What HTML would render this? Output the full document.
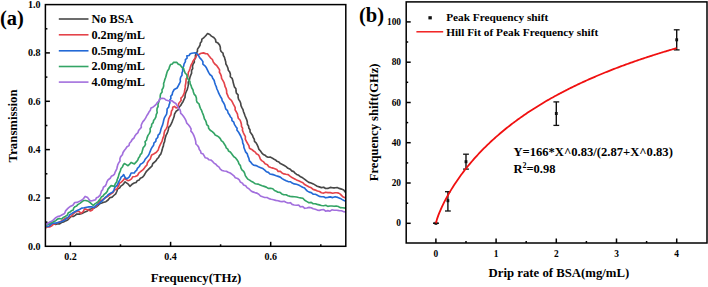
<!DOCTYPE html>
<html><head><meta charset="utf-8"><style>
html,body{margin:0;padding:0;background:#fff;width:708px;height:287px;overflow:hidden}
svg{display:block}
</style></head><body>
<svg width="708" height="287" viewBox="0 0 708 287">
<defs><clipPath id="clipL"><rect x="45.4" y="4.6" width="300.4" height="241.7"/></clipPath></defs>
<text x="0" y="24.9" font-family="'Liberation Serif', serif" font-weight="bold" font-size="20.5">(a)</text>
<g fill="none" stroke-width="1.65" stroke-linejoin="round" stroke-linecap="round" clip-path="url(#clipL)">
<path d="M45.5,224.0 L47.6,224.2 L49.7,224.0 L51.8,223.4 L53.8,223.7 L55.7,224.4 L57.6,223.8 L59.7,223.8 L61.5,222.5 L63.5,222.0 L65.5,220.9 L67.7,220.0 L69.4,218.2 L71.2,216.5 L73.3,216.5 L75.1,215.4 L76.8,214.0 L79.4,214.1 L81.9,213.4 L84.3,212.2 L86.8,211.3 L88.9,209.5 L91.6,208.8 L94.1,208.0 L96.4,206.8 L98.1,205.3 L99.8,203.6 L101.8,203.0 L103.8,202.3 L105.9,201.7 L108.1,200.0 L109.8,197.8 L112.1,197.1 L113.8,195.5 L115.7,193.8 L116.8,191.5 L117.6,189.1 L119.7,187.9 L120.8,186.1 L122.6,184.8 L123.8,183.6 L125.1,181.8 L127.9,183.8 L129.9,186.3 L132.0,184.3 L134.2,183.0 L136.1,182.5 L137.2,180.8 L139.1,180.1 L140.3,178.2 L142.5,177.3 L144.0,175.5 L145.2,173.4 L146.5,171.3 L148.2,169.7 L150.0,167.9 L151.9,166.2 L152.7,163.7 L154.7,162.0 L156.1,160.6 L157.1,158.9 L158.6,157.5 L159.4,155.6 L160.8,154.1 L161.5,152.1 L162.1,150.1 L162.6,147.9 L163.4,145.9 L163.7,143.7 L164.6,141.7 L164.9,139.5 L165.4,137.4 L166.0,135.4 L167.1,133.4 L167.8,131.4 L168.4,129.4 L168.7,127.3 L170.2,125.8 L171.2,123.9 L172.0,122.1 L172.7,120.2 L173.5,118.2 L174.2,116.3 L174.5,114.2 L176.1,111.3 L178.1,109.9 L179.3,106.9 L180.7,105.5 L181.6,103.8 L183.0,101.7 L184.1,99.2 L185.0,97.4 L185.1,95.3 L185.5,93.3 L186.3,91.5 L187.3,89.3 L187.9,86.9 L188.4,84.6 L188.2,82.1 L189.4,79.9 L189.9,77.6 L190.7,75.3 L191.6,73.1 L191.5,70.6 L192.7,68.5 L192.5,66.2 L193.1,64.1 L194.3,62.2 L194.3,59.9 L195.5,58.0 L195.4,55.6 L196.1,53.4 L197.4,51.5 L197.5,49.1 L198.8,47.2 L200.0,45.3 L200.3,43.0 L201.6,41.4 L201.9,39.2 L203.6,37.9 L205.0,36.5 L206.3,35.1 L207.6,33.5 L209.8,34.5 L211.4,36.1 L213.8,37.5 L215.5,39.5 L215.9,42.0 L218.0,43.1 L219.5,44.9 L220.3,47.0 L220.4,49.4 L221.1,51.5 L223.0,53.2 L223.4,55.5 L224.5,57.4 L225.0,59.6 L225.7,61.7 L225.9,64.0 L227.0,65.9 L227.9,68.0 L228.3,70.2 L229.7,72.1 L230.4,74.2 L230.3,76.7 L232.1,78.3 L232.8,80.4 L233.2,82.6 L233.8,84.7 L234.4,86.9 L235.9,88.7 L236.0,91.0 L236.4,93.2 L238.1,94.9 L238.1,97.3 L238.6,99.4 L239.9,101.3 L240.7,103.3 L241.0,105.6 L241.9,107.6 L243.0,109.6 L243.5,111.8 L244.4,113.9 L245.1,116.0 L246.0,118.1 L246.8,120.0 L247.3,122.0 L247.4,124.2 L248.6,125.9 L248.8,128.0 L250.0,129.8 L250.1,132.0 L251.4,133.7 L252.6,135.4 L253.2,137.4 L254.3,139.2 L254.5,141.4 L256.1,142.9 L257.1,144.7 L258.0,146.6 L258.8,149.1 L260.5,151.0 L261.9,153.1 L263.3,154.4 L265.0,155.2 L266.3,156.4 L268.1,157.2 L270.2,157.1 L272.0,157.9 L273.7,159.0 L275.5,159.9 L277.0,161.3 L278.9,162.0 L280.4,163.6 L282.4,164.5 L284.3,165.5 L286.1,166.6 L288.0,168.3 L290.3,169.3 L291.7,170.9 L293.7,171.6 L295.0,173.2 L296.7,174.4 L298.8,175.3 L300.6,176.8 L302.7,177.8 L304.8,179.3 L306.7,180.9 L308.8,182.4 L311.1,183.0 L313.3,183.9 L315.3,185.1 L317.2,186.2 L319.3,186.9 L321.4,187.6 L323.7,187.2 L325.6,188.5 L327.8,188.4 L330.2,187.4 L332.7,187.8 L335.1,187.8 L337.2,187.6 L339.2,188.4 L341.5,189.1 L343.7,190.0 L345.6,192.4" stroke="#474747"/>
<path d="M45.5,228.0 L47.5,226.8 L50.0,226.8 L51.9,225.7 L53.6,224.1 L55.6,223.7 L57.6,222.9 L59.6,222.0 L61.6,220.9 L64.2,219.1 L66.1,218.1 L68.5,218.0 L69.9,216.6 L71.7,215.9 L72.8,214.3 L74.9,212.3 L77.8,211.2 L79.5,211.7 L80.9,213.5 L83.1,211.6 L84.6,208.9 L87.7,209.8 L90.5,210.9 L92.3,210.1 L93.3,208.4 L95.1,206.8 L97.2,205.5 L98.2,203.2 L99.8,201.3 L102.1,199.9 L104.2,198.5 L106.2,197.2 L108.2,196.1 L110.3,194.4 L112.6,192.9 L113.8,191.3 L114.9,189.7 L117.0,188.9 L117.8,187.0 L118.9,185.3 L119.5,183.3 L121.3,182.1 L122.9,180.7 L124.3,178.6 L126.2,179.5 L127.9,180.6 L129.7,180.2 L131.5,178.8 L132.7,176.8 L135.2,176.5 L137.5,175.5 L138.8,173.2 L140.7,171.5 L142.5,170.2 L144.0,168.6 L145.3,166.7 L146.9,165.2 L147.4,162.7 L148.7,160.8 L150.3,159.0 L150.9,157.0 L151.7,154.9 L154.1,153.7 L156.4,152.3 L158.2,150.1 L158.9,147.6 L159.9,145.4 L161.0,143.1 L162.0,141.4 L162.5,139.5 L163.1,137.6 L163.9,135.8 L164.1,133.2 L164.8,130.8 L166.3,128.6 L167.4,126.3 L167.7,123.9 L168.2,121.5 L168.7,118.9 L169.8,116.5 L170.9,114.8 L171.2,112.9 L171.5,111.0 L172.6,109.4 L172.7,107.3 L174.5,106.4 L176.1,108.0 L178.0,107.1 L178.4,105.3 L178.7,103.5 L179.9,102.0 L181.1,100.5 L180.9,98.1 L182.6,96.5 L183.5,94.6 L184.4,92.6 L184.7,90.2 L185.2,87.9 L185.3,85.5 L185.8,83.2 L186.0,80.9 L186.2,78.7 L187.8,76.9 L188.1,74.7 L188.3,72.5 L189.3,70.5 L190.0,68.6 L190.6,66.6 L191.3,64.6 L192.3,62.8 L193.1,60.9 L194.5,59.1 L195.8,57.2 L196.9,55.0 L199.2,54.3 L201.2,53.3 L203.5,52.9 L205.5,53.6 L207.4,53.8 L208.9,55.8 L210.5,57.8 L212.4,59.5 L213.3,62.0 L214.8,64.0 L216.8,65.7 L218.2,67.8 L219.6,69.9 L219.4,72.3 L220.6,74.2 L221.3,76.1 L221.6,78.4 L222.8,80.4 L223.9,82.3 L224.6,84.5 L225.1,86.7 L226.1,88.7 L226.6,90.8 L226.7,93.1 L227.6,95.1 L228.4,97.1 L229.6,98.9 L231.4,100.3 L232.5,102.3 L233.3,104.2 L234.3,105.9 L235.2,107.7 L235.1,109.9 L236.3,111.8 L237.4,113.8 L237.8,116.0 L238.3,118.2 L240.0,120.0 L240.8,122.0 L241.4,124.2 L241.5,126.5 L242.6,128.1 L242.4,130.1 L243.2,132.3 L244.2,134.5 L245.4,136.6 L245.3,139.2 L246.4,141.3 L247.6,143.5 L248.9,145.7 L249.4,148.2 L251.7,149.4 L253.6,151.0 L255.3,152.1 L256.4,153.8 L258.3,154.7 L259.5,156.7 L260.3,159.0 L261.7,160.6 L263.7,161.9 L265.1,163.8 L267.4,164.7 L268.8,166.7 L270.8,167.5 L272.9,168.1 L274.8,168.8 L276.8,169.5 L278.2,171.4 L280.4,171.4 L282.0,173.0 L283.9,173.9 L286.0,174.3 L288.2,174.6 L290.0,176.1 L292.0,177.6 L294.3,178.7 L296.5,179.9 L298.6,180.8 L300.7,181.8 L302.9,182.7 L304.7,184.6 L306.9,185.7 L309.2,186.9 L311.3,187.8 L313.1,189.4 L315.4,190.1 L317.4,191.0 L319.5,191.5 L321.4,192.8 L323.6,193.1 L325.8,192.2 L327.8,192.6 L330.2,192.6 L332.7,193.2 L335.1,192.7 L336.9,192.7 L338.7,193.1 L340.3,194.1 L341.5,195.4 L342.8,196.8 L344.5,197.6" stroke="#e4434a"/>
<path d="M45.5,226.5 L48.1,226.4 L50.0,225.6 L51.6,223.8 L53.5,223.0 L56.3,223.1 L58.7,222.3 L61.1,221.7 L63.4,220.8 L65.5,219.4 L67.5,217.7 L68.9,216.2 L70.0,214.4 L71.7,213.7 L73.1,212.7 L75.2,211.6 L77.2,210.5 L79.5,209.5 L81.7,208.1 L84.1,207.7 L86.6,207.2 L89.0,206.9 L91.5,206.9 L94.4,207.5 L95.7,205.9 L97.2,204.5 L98.9,204.0 L100.0,202.7 L102.1,201.0 L104.0,199.0 L105.2,197.4 L106.9,196.3 L108.1,194.7 L110.5,193.3 L113.0,191.9 L114.1,189.5 L115.0,187.1 L117.1,185.4 L118.1,183.3 L119.1,181.2 L120.3,179.2 L121.1,177.1 L122.5,176.1 L123.7,174.6 L124.7,176.9 L126.2,178.7 L127.8,178.2 L129.3,176.8 L130.3,175.0 L131.1,173.0 L134.3,173.0 L135.3,171.4 L136.8,170.1 L137.4,168.3 L139.3,166.5 L140.5,164.2 L142.5,163.1 L144.1,161.5 L145.2,159.2 L146.9,157.3 L148.4,155.5 L149.4,153.3 L150.3,151.1 L151.2,148.8 L152.3,146.9 L153.6,145.2 L154.0,142.9 L155.8,141.4 L156.1,139.1 L157.7,137.5 L158.1,135.2 L159.7,133.6 L160.4,131.5 L160.9,129.2 L161.7,127.0 L162.6,124.9 L163.2,122.6 L163.7,120.3 L164.3,118.1 L165.4,116.1 L166.6,114.1 L167.0,111.6 L167.1,109.1 L168.7,107.1 L169.1,104.9 L169.9,102.8 L169.6,100.4 L170.9,98.6 L170.7,96.3 L172.2,94.6 L172.6,92.4 L174.2,89.5 L177.1,88.0 L178.5,85.3 L179.5,83.5 L180.4,81.5 L180.2,79.2 L180.7,77.1 L182.0,75.2 L182.0,73.0 L182.8,71.0 L182.6,68.7 L183.6,66.3 L184.1,63.8 L185.4,61.6 L185.4,59.6 L187.1,58.2 L186.9,55.9 L189.1,55.5 L190.2,53.7 L191.9,53.2 L195.1,52.8 L196.9,53.7 L198.5,55.3 L199.6,57.7 L201.5,59.6 L202.9,61.6 L202.9,64.2 L204.9,65.8 L206.4,67.8 L207.5,70.1 L208.6,72.4 L209.9,74.5 L211.9,76.1 L212.7,78.3 L214.1,80.2 L214.7,82.5 L215.4,84.7 L216.3,86.8 L216.9,89.0 L217.9,91.0 L218.7,93.2 L219.7,95.2 L220.7,97.0 L221.8,98.7 L222.2,100.8 L223.4,102.5 L224.4,104.3 L225.1,106.6 L225.7,108.9 L227.5,110.6 L228.1,112.9 L229.4,114.7 L230.3,116.7 L231.8,118.3 L232.0,120.7 L233.8,122.2 L234.4,124.4 L235.7,126.4 L237.1,128.3 L236.9,130.0 L238.4,131.9 L239.6,134.0 L240.7,136.0 L241.6,138.2 L242.5,140.5 L242.7,142.9 L243.7,145.1 L243.9,147.5 L244.8,149.7 L245.6,151.9 L247.3,153.9 L247.9,156.2 L248.9,158.4 L249.4,160.8 L250.8,162.2 L252.0,163.8 L253.6,165.1 L256.1,165.6 L258.4,166.7 L260.7,167.7 L262.9,168.6 L264.8,170.1 L266.4,171.8 L268.4,172.4 L269.9,174.0 L272.0,174.4 L274.1,174.9 L276.2,175.7 L278.2,176.4 L280.3,177.1 L282.1,178.6 L284.1,179.7 L286.1,180.7 L288.1,181.6 L290.3,181.7 L292.2,183.1 L294.2,183.9 L296.4,184.3 L298.6,185.0 L300.6,186.1 L302.6,187.3 L304.6,188.1 L305.9,189.7 L307.4,191.1 L309.2,192.1 L311.3,192.6 L313.1,194.1 L315.4,194.3 L317.4,195.2 L319.3,196.4 L321.5,196.7 L323.6,196.7 L325.6,197.8 L327.8,197.4 L330.2,196.9 L332.7,197.6 L335.1,196.7 L337.8,197.4 L340.3,198.4 L342.3,199.6 L344.5,200.8" stroke="#2369d6"/>
<path d="M45.5,226.0 L47.5,224.5 L49.8,223.5 L51.7,222.4 L53.8,221.6 L55.7,220.7 L57.4,219.1 L59.4,218.5 L61.6,219.0 L63.3,217.4 L65.2,216.5 L67.3,215.1 L68.3,212.8 L70.0,212.1 L71.3,210.8 L73.3,209.9 L73.7,208.0 L75.0,206.7 L76.6,206.0 L77.8,204.6 L79.9,203.4 L81.8,201.9 L83.5,200.5 L85.6,200.5 L88.5,201.3 L90.2,202.7 L91.8,204.1 L93.5,205.5 L94.8,203.9 L96.5,202.9 L98.1,201.5 L99.5,199.9 L100.4,198.8 L101.3,197.0 L103.1,196.0 L104.2,194.3 L106.0,193.0 L107.3,191.3 L108.0,189.1 L109.5,187.4 L111.1,185.6 L114.3,186.4 L115.3,183.8 L116.8,181.8 L117.2,179.5 L118.1,177.6 L118.7,175.4 L119.3,173.3 L120.3,171.0 L121.0,168.5 L122.4,167.0 L123.2,165.1 L124.4,163.5 L125.9,164.4 L128.0,165.7 L129.7,164.1 L131.1,162.4 L134.4,163.9 L136.3,161.9 L137.8,159.9 L138.5,158.1 L139.7,156.6 L140.3,154.7 L141.7,153.3 L142.2,151.4 L142.7,149.5 L143.2,147.6 L144.7,146.0 L145.5,144.1 L145.0,141.8 L146.4,140.2 L146.6,139.9 L147.1,137.6 L148.0,135.4 L149.4,133.4 L150.3,131.1 L150.1,128.6 L151.5,126.5 L151.7,124.3 L153.2,122.6 L153.6,120.5 L155.0,118.7 L155.9,116.8 L156.2,114.6 L157.2,112.7 L156.9,110.5 L157.1,108.4 L158.1,106.5 L158.0,104.3 L158.7,102.2 L159.4,100.2 L160.2,98.2 L160.2,96.0 L160.6,93.9 L162.1,92.0 L162.0,89.7 L163.2,87.8 L163.7,85.7 L163.6,83.5 L164.3,81.4 L164.9,79.3 L165.7,77.2 L166.3,75.1 L166.8,73.0 L167.5,71.0 L168.9,69.1 L169.5,66.8 L170.5,64.6 L172.3,63.9 L173.6,62.3 L176.9,62.4 L178.1,64.1 L180.0,64.7 L181.5,66.8 L183.6,68.5 L184.3,70.9 L185.1,73.0 L186.8,74.8 L187.2,77.3 L188.2,79.4 L189.9,81.2 L190.1,83.6 L191.1,85.6 L191.7,87.8 L192.9,89.7 L193.4,92.0 L194.1,94.1 L195.7,95.9 L196.4,98.0 L196.5,100.4 L197.2,102.4 L199.0,103.8 L199.6,106.1 L200.4,108.3 L201.6,110.4 L202.3,112.5 L203.2,114.6 L203.9,116.7 L204.4,118.8 L205.6,120.6 L206.3,122.5 L206.7,124.6 L208.4,126.1 L208.6,128.2 L210.2,130.2 L212.3,131.6 L214.1,133.3 L215.2,135.1 L217.2,135.9 L218.9,137.1 L220.3,138.6 L221.3,140.7 L223.2,142.1 L224.3,144.1 L225.6,145.9 L226.2,147.8 L227.8,149.1 L228.5,151.0 L230.3,152.0 L231.5,153.6 L232.7,155.2 L233.9,156.8 L235.6,157.9 L237.0,159.7 L238.2,161.6 L238.9,163.8 L240.4,165.6 L240.9,167.9 L241.9,169.8 L243.7,171.4 L244.7,173.4 L245.3,175.6 L246.6,177.5 L247.8,179.1 L249.6,180.1 L251.1,181.2 L253.3,182.3 L255.4,183.8 L258.0,184.1 L260.1,184.9 L262.1,185.7 L264.2,186.4 L266.3,187.1 L268.2,188.4 L270.6,188.2 L272.8,188.7 L274.5,190.5 L276.3,191.2 L278.0,192.2 L280.0,192.4 L281.8,193.9 L283.8,194.7 L286.1,194.8 L288.0,195.8 L290.1,196.4 L292.3,196.6 L294.4,196.8 L296.6,197.0 L298.6,197.5 L300.7,197.9 L302.9,198.2 L304.7,200.3 L307.0,201.6 L308.9,202.7 L311.2,202.4 L313.1,203.7 L315.3,203.8 L317.3,204.4 L319.3,204.9 L321.4,205.5 L323.6,205.7 L325.8,205.3 L327.8,206.4 L329.9,206.0 L332.0,206.0 L334.1,206.3 L336.2,206.0 L338.3,206.5 L340.2,207.6 L342.4,207.8 L345.6,208.1" stroke="#33a465"/>
<path d="M45.5,225.0 L47.5,223.5 L49.6,222.1 L51.7,221.2 L53.5,219.8 L55.3,218.0 L57.5,216.6 L59.8,216.1 L61.7,215.0 L64.6,213.5 L65.6,210.9 L67.4,208.9 L68.7,207.7 L70.1,206.6 L72.9,205.2 L74.7,202.5 L77.0,202.4 L79.0,201.6 L81.9,200.0 L83.6,198.5 L85.1,196.4 L87.7,197.6 L88.9,199.4 L90.4,201.0 L92.5,200.6 L95.6,199.7 L96.5,197.7 L98.4,196.9 L100.2,195.1 L100.9,193.1 L101.5,191.1 L102.8,189.4 L103.4,187.2 L105.4,185.8 L106.3,183.8 L107.0,181.7 L108.2,179.7 L110.2,178.3 L111.3,176.3 L112.9,175.5 L114.3,174.4 L115.0,172.4 L115.9,170.6 L116.8,168.8 L117.3,166.8 L117.7,164.9 L118.7,162.9 L120.0,161.0 L119.9,158.7 L120.7,156.6 L122.4,154.8 L123.0,152.5 L124.3,150.5 L125.7,148.7 L127.0,146.8 L129.0,145.6 L129.5,143.2 L131.1,141.5 L132.2,139.5 L134.0,138.0 L134.9,135.9 L136.3,134.1 L138.0,132.6 L138.6,130.6 L139.9,129.0 L141.3,127.4 L141.2,125.2 L142.0,123.3 L142.9,121.6 L144.3,120.1 L145.7,117.9 L146.9,115.5 L148.1,113.8 L149.0,111.9 L150.3,110.2 L151.0,108.1 L152.9,107.2 L154.5,105.9 L155.9,104.6 L157.2,102.7 L158.9,101.2 L159.7,98.7 L162.1,98.4 L164.3,98.5 L165.9,100.0 L168.4,100.7 L170.6,100.8 L172.2,100.9 L173.8,102.3 L175.8,103.5 L177.6,106.2 L178.5,108.1 L179.9,109.6 L180.5,111.4 L180.7,113.4 L182.2,114.7 L183.4,116.2 L184.8,118.4 L186.0,120.7 L186.8,123.2 L188.6,125.0 L190.1,127.1 L191.1,128.8 L190.9,131.1 L192.3,132.6 L193.3,134.4 L194.3,136.7 L195.1,139.0 L195.7,141.4 L195.9,144.0 L197.5,145.5 L198.7,147.3 L199.3,149.4 L200.5,151.0 L201.1,153.2 L203.2,154.1 L204.2,155.9 L205.3,157.8 L207.3,158.2 L208.8,159.7 L210.8,160.0 L212.6,161.4 L214.0,163.1 L215.9,164.2 L217.3,165.9 L219.1,167.2 L220.3,169.2 L222.1,170.5 L224.2,171.0 L226.4,171.2 L228.2,172.3 L230.2,173.0 L232.1,174.4 L233.9,175.8 L235.3,177.7 L237.6,178.5 L239.3,179.8 L240.3,182.0 L242.3,183.1 L243.6,184.9 L245.7,185.7 L247.0,187.6 L248.9,188.7 L250.4,190.3 L252.1,191.6 L254.4,192.4 L256.7,193.1 L258.8,194.2 L260.5,196.0 L262.6,196.8 L264.7,197.5 L267.1,197.5 L269.0,198.6 L271.2,199.3 L273.5,199.7 L275.7,200.4 L278.0,200.7 L280.2,201.4 L282.1,201.6 L284.1,201.3 L285.9,202.3 L287.9,203.0 L290.4,202.7 L292.1,204.4 L294.2,205.0 L296.4,205.2 L298.7,205.1 L300.4,206.8 L302.8,206.6 L304.7,208.3 L306.9,208.0 L309.0,207.4 L311.2,207.7 L313.2,208.8 L315.3,209.3 L317.4,210.1 L319.4,210.4 L321.6,209.7 L323.7,209.6 L325.6,211.2 L327.8,210.6 L330.0,211.2 L331.9,209.8 L334.1,210.2 L336.7,210.3 L339.2,210.6 L341.4,210.8 L343.4,211.6 L345.6,211.9" stroke="#a26fdd"/>
</g>
<rect x="45.4" y="4.6" width="300.4" height="241.7" fill="none" stroke="#000" stroke-width="1.5"/>
<text x="40.6" y="249.7" font-family="'Liberation Serif', serif" font-weight="bold" font-size="10" text-anchor="end">0.0</text>
<line x1="45.4" y1="222.1" x2="47.4" y2="222.1" stroke="#000" stroke-width="1.5"/>
<line x1="45.4" y1="198.0" x2="49.9" y2="198.0" stroke="#000" stroke-width="1.5"/>
<text x="40.6" y="201.4" font-family="'Liberation Serif', serif" font-weight="bold" font-size="10" text-anchor="end">0.2</text>
<line x1="45.4" y1="173.8" x2="47.4" y2="173.8" stroke="#000" stroke-width="1.5"/>
<line x1="45.4" y1="149.6" x2="49.9" y2="149.6" stroke="#000" stroke-width="1.5"/>
<text x="40.6" y="153.0" font-family="'Liberation Serif', serif" font-weight="bold" font-size="10" text-anchor="end">0.4</text>
<line x1="45.4" y1="125.5" x2="47.4" y2="125.5" stroke="#000" stroke-width="1.5"/>
<line x1="45.4" y1="101.3" x2="49.9" y2="101.3" stroke="#000" stroke-width="1.5"/>
<text x="40.6" y="104.7" font-family="'Liberation Serif', serif" font-weight="bold" font-size="10" text-anchor="end">0.6</text>
<line x1="45.4" y1="77.1" x2="47.4" y2="77.1" stroke="#000" stroke-width="1.5"/>
<line x1="45.4" y1="52.9" x2="49.9" y2="52.9" stroke="#000" stroke-width="1.5"/>
<text x="40.6" y="56.3" font-family="'Liberation Serif', serif" font-weight="bold" font-size="10" text-anchor="end">0.8</text>
<line x1="45.4" y1="28.8" x2="47.4" y2="28.8" stroke="#000" stroke-width="1.5"/>
<text x="40.6" y="8.0" font-family="'Liberation Serif', serif" font-weight="bold" font-size="10" text-anchor="end">1.0</text>
<line x1="70.4" y1="246.3" x2="70.4" y2="241.8" stroke="#000" stroke-width="1.5"/>
<text x="70.4" y="259.5" font-family="'Liberation Serif', serif" font-weight="bold" font-size="10" text-anchor="middle">0.2</text>
<line x1="120.5" y1="246.3" x2="120.5" y2="244.3" stroke="#000" stroke-width="1.5"/>
<line x1="170.6" y1="246.3" x2="170.6" y2="241.8" stroke="#000" stroke-width="1.5"/>
<text x="170.6" y="259.5" font-family="'Liberation Serif', serif" font-weight="bold" font-size="10" text-anchor="middle">0.4</text>
<line x1="220.6" y1="246.3" x2="220.6" y2="244.3" stroke="#000" stroke-width="1.5"/>
<line x1="270.7" y1="246.3" x2="270.7" y2="241.8" stroke="#000" stroke-width="1.5"/>
<text x="270.7" y="259.5" font-family="'Liberation Serif', serif" font-weight="bold" font-size="10" text-anchor="middle">0.6</text>
<line x1="320.8" y1="246.3" x2="320.8" y2="244.3" stroke="#000" stroke-width="1.5"/>
<text x="196" y="281.6" font-family="'Liberation Serif', serif" font-weight="bold" font-size="12.8" text-anchor="middle">Frequency(THz)</text>
<text transform="translate(17.2,125.9) rotate(-90)" font-family="'Liberation Serif', serif" font-weight="bold" font-size="12.8" text-anchor="middle">Transmission</text>
<line x1="58.8" y1="19.0" x2="88.5" y2="19.0" stroke="#474747" stroke-width="1.6"/>
<text x="91.4" y="22.8" font-family="'Liberation Serif', serif" font-weight="bold" font-size="12.3">No BSA</text>
<line x1="58.8" y1="34.8" x2="88.5" y2="34.8" stroke="#e4434a" stroke-width="1.6"/>
<text x="91.4" y="38.6" font-family="'Liberation Serif', serif" font-weight="bold" font-size="12.3">0.2mg/mL</text>
<line x1="58.8" y1="50.8" x2="88.5" y2="50.8" stroke="#2369d6" stroke-width="1.6"/>
<text x="91.4" y="54.6" font-family="'Liberation Serif', serif" font-weight="bold" font-size="12.3">0.5mg/mL</text>
<line x1="58.8" y1="66.5" x2="88.5" y2="66.5" stroke="#33a465" stroke-width="1.6"/>
<text x="91.4" y="70.3" font-family="'Liberation Serif', serif" font-weight="bold" font-size="12.3">2.0mg/mL</text>
<line x1="58.8" y1="82.1" x2="88.5" y2="82.1" stroke="#a26fdd" stroke-width="1.6"/>
<text x="91.4" y="85.9" font-family="'Liberation Serif', serif" font-weight="bold" font-size="12.3">4.0mg/mL</text>
<text x="359" y="22.2" font-family="'Liberation Serif', serif" font-weight="bold" font-size="20.5">(b)</text>
<rect x="406.2" y="1.9" width="300.8" height="241.1" fill="none" stroke="#000" stroke-width="1.5"/>
<line x1="406.2" y1="223.3" x2="410.7" y2="223.3" stroke="#000" stroke-width="1.5"/>
<text x="401" y="226.3" font-family="'Liberation Serif', serif" font-weight="bold" font-size="9.4" text-anchor="end">0</text>
<line x1="406.2" y1="203.2" x2="408.2" y2="203.2" stroke="#000" stroke-width="1.5"/>
<line x1="406.2" y1="183.0" x2="410.7" y2="183.0" stroke="#000" stroke-width="1.5"/>
<text x="401" y="186.0" font-family="'Liberation Serif', serif" font-weight="bold" font-size="9.4" text-anchor="end">20</text>
<line x1="406.2" y1="162.9" x2="408.2" y2="162.9" stroke="#000" stroke-width="1.5"/>
<line x1="406.2" y1="142.7" x2="410.7" y2="142.7" stroke="#000" stroke-width="1.5"/>
<text x="401" y="145.7" font-family="'Liberation Serif', serif" font-weight="bold" font-size="9.4" text-anchor="end">40</text>
<line x1="406.2" y1="122.6" x2="408.2" y2="122.6" stroke="#000" stroke-width="1.5"/>
<line x1="406.2" y1="102.5" x2="410.7" y2="102.5" stroke="#000" stroke-width="1.5"/>
<text x="401" y="105.5" font-family="'Liberation Serif', serif" font-weight="bold" font-size="9.4" text-anchor="end">60</text>
<line x1="406.2" y1="82.3" x2="408.2" y2="82.3" stroke="#000" stroke-width="1.5"/>
<line x1="406.2" y1="62.2" x2="410.7" y2="62.2" stroke="#000" stroke-width="1.5"/>
<text x="401" y="65.2" font-family="'Liberation Serif', serif" font-weight="bold" font-size="9.4" text-anchor="end">80</text>
<line x1="406.2" y1="42.0" x2="408.2" y2="42.0" stroke="#000" stroke-width="1.5"/>
<line x1="406.2" y1="21.9" x2="410.7" y2="21.9" stroke="#000" stroke-width="1.5"/>
<text x="401" y="24.9" font-family="'Liberation Serif', serif" font-weight="bold" font-size="9.4" text-anchor="end">100</text>
<line x1="435.9" y1="243.0" x2="435.9" y2="238.5" stroke="#000" stroke-width="1.5"/>
<text x="435.9" y="256.6" font-family="'Liberation Serif', serif" font-weight="bold" font-size="9.4" text-anchor="middle">0</text>
<line x1="466.0" y1="243.0" x2="466.0" y2="241.0" stroke="#000" stroke-width="1.5"/>
<line x1="496.1" y1="243.0" x2="496.1" y2="238.5" stroke="#000" stroke-width="1.5"/>
<text x="496.1" y="256.6" font-family="'Liberation Serif', serif" font-weight="bold" font-size="9.4" text-anchor="middle">1</text>
<line x1="526.2" y1="243.0" x2="526.2" y2="241.0" stroke="#000" stroke-width="1.5"/>
<line x1="556.3" y1="243.0" x2="556.3" y2="238.5" stroke="#000" stroke-width="1.5"/>
<text x="556.3" y="256.6" font-family="'Liberation Serif', serif" font-weight="bold" font-size="9.4" text-anchor="middle">2</text>
<line x1="586.4" y1="243.0" x2="586.4" y2="241.0" stroke="#000" stroke-width="1.5"/>
<line x1="616.5" y1="243.0" x2="616.5" y2="238.5" stroke="#000" stroke-width="1.5"/>
<text x="616.5" y="256.6" font-family="'Liberation Serif', serif" font-weight="bold" font-size="9.4" text-anchor="middle">3</text>
<line x1="646.6" y1="243.0" x2="646.6" y2="241.0" stroke="#000" stroke-width="1.5"/>
<line x1="676.7" y1="243.0" x2="676.7" y2="238.5" stroke="#000" stroke-width="1.5"/>
<text x="676.7" y="256.6" font-family="'Liberation Serif', serif" font-weight="bold" font-size="9.4" text-anchor="middle">4</text>
<text x="558.9" y="277" font-family="'Liberation Serif', serif" font-weight="bold" font-size="12.75" text-anchor="middle">Drip rate of BSA(mg/mL)</text>
<text transform="translate(378.2,122.35) rotate(-90)" font-family="'Liberation Serif', serif" font-weight="bold" font-size="12.62" text-anchor="middle">Frequency shift(GHz)</text>
<line x1="433.0" y1="223.3" x2="438.8" y2="223.3" stroke="#111" stroke-width="1.3"/>
<line x1="433.0" y1="223.3" x2="438.8" y2="223.3" stroke="#111" stroke-width="1.3"/>
<rect x="434.5" y="221.8" width="2.8" height="3" fill="#111"/>
<line x1="447.9" y1="191.7" x2="447.9" y2="211.0" stroke="#111" stroke-width="1.4"/>
<line x1="445.0" y1="191.7" x2="450.8" y2="191.7" stroke="#111" stroke-width="1.3"/>
<line x1="445.0" y1="211.0" x2="450.8" y2="211.0" stroke="#111" stroke-width="1.3"/>
<rect x="446.5" y="199.2" width="2.8" height="3" fill="#111"/>
<line x1="466.0" y1="154.2" x2="466.0" y2="169.1" stroke="#111" stroke-width="1.4"/>
<line x1="463.1" y1="154.2" x2="468.9" y2="154.2" stroke="#111" stroke-width="1.3"/>
<line x1="463.1" y1="169.1" x2="468.9" y2="169.1" stroke="#111" stroke-width="1.3"/>
<rect x="464.6" y="160.2" width="2.8" height="3" fill="#111"/>
<line x1="556.3" y1="101.9" x2="556.3" y2="125.4" stroke="#111" stroke-width="1.4"/>
<line x1="553.4" y1="101.9" x2="559.2" y2="101.9" stroke="#111" stroke-width="1.3"/>
<line x1="553.4" y1="125.4" x2="559.2" y2="125.4" stroke="#111" stroke-width="1.3"/>
<rect x="554.9" y="112.0" width="2.8" height="3" fill="#111"/>
<line x1="676.7" y1="29.8" x2="676.7" y2="49.9" stroke="#111" stroke-width="1.4"/>
<line x1="673.8" y1="29.8" x2="679.6" y2="29.8" stroke="#111" stroke-width="1.3"/>
<line x1="673.8" y1="49.9" x2="679.6" y2="49.9" stroke="#111" stroke-width="1.3"/>
<rect x="675.3" y="38.3" width="2.8" height="3" fill="#111"/>
<path d="M435.90,223.30 L437.10,218.83 L438.31,215.44 L439.51,212.39 L440.72,209.57 L441.92,206.91 L443.12,204.39 L444.33,201.97 L445.53,199.65 L446.74,197.41 L447.94,195.24 L449.14,193.14 L450.35,191.10 L451.55,189.11 L452.76,187.18 L453.96,185.29 L455.16,183.45 L456.37,181.65 L457.57,179.89 L458.78,178.16 L459.98,176.48 L461.18,174.82 L462.39,173.20 L463.59,171.61 L464.80,170.04 L466.00,168.51 L467.20,167.00 L468.41,165.52 L469.61,164.06 L470.82,162.63 L472.02,161.22 L473.22,159.83 L474.43,158.47 L475.63,157.12 L476.84,155.80 L478.04,154.49 L479.24,153.21 L480.45,151.94 L481.65,150.69 L482.86,149.45 L484.06,148.24 L485.26,147.04 L486.47,145.85 L487.67,144.69 L488.88,143.53 L490.08,142.39 L491.28,141.27 L492.49,140.16 L493.69,139.06 L494.90,137.98 L496.10,136.91 L497.30,135.85 L498.51,134.81 L499.71,133.78 L500.92,132.76 L502.12,131.75 L503.32,130.75 L504.53,129.76 L505.73,128.79 L506.94,127.82 L508.14,126.87 L509.34,125.92 L510.55,124.99 L511.75,124.07 L512.96,123.15 L514.16,122.25 L515.36,121.35 L516.57,120.46 L517.77,119.59 L518.98,118.72 L520.18,117.86 L521.38,117.01 L522.59,116.16 L523.79,115.33 L525.00,114.50 L526.20,113.68 L527.40,112.87 L528.61,112.07 L529.81,111.27 L531.02,110.48 L532.22,109.70 L533.42,108.92 L534.63,108.16 L535.83,107.40 L537.04,106.64 L538.24,105.89 L539.44,105.15 L540.65,104.42 L541.85,103.69 L543.06,102.97 L544.26,102.26 L545.46,101.55 L546.67,100.84 L547.87,100.15 L549.08,99.46 L550.28,98.77 L551.48,98.09 L552.69,97.42 L553.89,96.75 L555.10,96.08 L556.30,95.42 L557.50,94.77 L558.71,94.12 L559.91,93.48 L561.12,92.84 L562.32,92.21 L563.52,91.58 L564.73,90.96 L565.93,90.34 L567.14,89.73 L568.34,89.12 L569.54,88.52 L570.75,87.92 L571.95,87.33 L573.16,86.73 L574.36,86.15 L575.56,85.57 L576.77,84.99 L577.97,84.42 L579.18,83.85 L580.38,83.28 L581.58,82.72 L582.79,82.17 L583.99,81.61 L585.20,81.06 L586.40,80.52 L587.60,79.98 L588.81,79.44 L590.01,78.91 L591.22,78.38 L592.42,77.85 L593.62,77.33 L594.83,76.81 L596.03,76.29 L597.24,75.78 L598.44,75.27 L599.64,74.76 L600.85,74.26 L602.05,73.76 L603.26,73.27 L604.46,72.78 L605.66,72.29 L606.87,71.80 L608.07,71.32 L609.28,70.84 L610.48,70.36 L611.68,69.89 L612.89,69.42 L614.09,68.95 L615.30,68.49 L616.50,68.03 L617.70,67.57 L618.91,67.11 L620.11,66.66 L621.32,66.21 L622.52,65.76 L623.72,65.32 L624.93,64.87 L626.13,64.43 L627.34,64.00 L628.54,63.56 L629.74,63.13 L630.95,62.70 L632.15,62.28 L633.36,61.85 L634.56,61.43 L635.76,61.01 L636.97,60.60 L638.17,60.18 L639.38,59.77 L640.58,59.36 L641.78,58.96 L642.99,58.55 L644.19,58.15 L645.40,57.75 L646.60,57.35 L647.80,56.96 L649.01,56.56 L650.21,56.17 L651.42,55.78 L652.62,55.40 L653.82,55.01 L655.03,54.63 L656.23,54.25 L657.44,53.87 L658.64,53.50 L659.84,53.12 L661.05,52.75 L662.25,52.38 L663.46,52.01 L664.66,51.65 L665.86,51.28 L667.07,50.92 L668.27,50.56 L669.48,50.20 L670.68,49.85 L671.88,49.49 L673.09,49.14 L674.29,48.79 L675.50,48.44 L676.70,48.09" fill="none" stroke="#f01010" stroke-width="1.8"/>
<rect x="428.4" y="16.2" width="3.4" height="3.2" fill="#111"/>
<text x="446.2" y="21.4" font-family="'Liberation Serif', serif" font-weight="bold" font-size="11.3">Peak Frequency shift</text>
<line x1="416.4" y1="31.8" x2="443.2" y2="31.8" stroke="#f01010" stroke-width="1.4"/>
<text x="446.2" y="35.6" font-family="'Liberation Serif', serif" font-weight="bold" font-size="11.3">Hill Fit of Peak Frequency shift</text>
<text x="513.4" y="155.6" font-family="'Liberation Serif', serif" font-weight="bold" font-size="12.6">Y=166*X^0.83/(2.87+X^0.83)</text>
<text x="513.4" y="172.9" font-family="'Liberation Serif', serif" font-weight="bold" font-size="12.5">R<tspan font-size="8" dy="-4.5">2</tspan><tspan dy="4.5">=0.98</tspan></text>
</svg>
</body></html>
